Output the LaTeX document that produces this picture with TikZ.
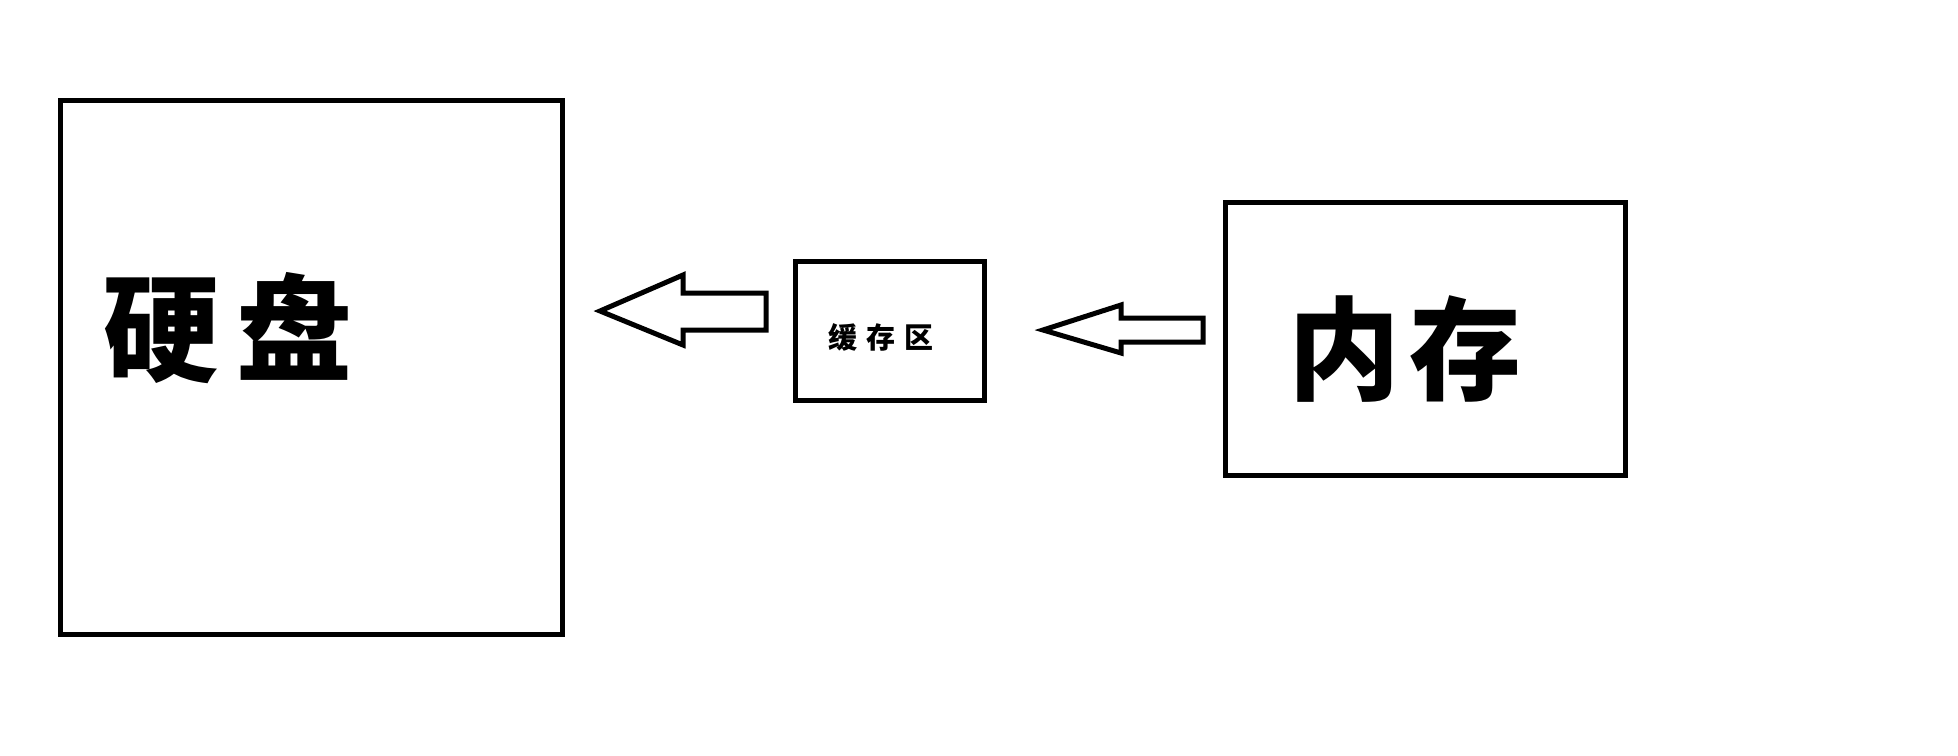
\documentclass[tikz,border=0pt]{standalone}
\usepackage{fontspec}
\usepackage{tikz}
\newfontfamily\cjk{Noto Sans CJK SC}

\tikzset{
  caixa/.style={draw, line width=5pt, inner sep=0pt},
  rotulo/.style={inner sep=0pt, font=\cjk\bfseries},
  seta/.style={draw, line width=5pt, line join=miter, fill=white}
}

\begin{document}
\begin{tikzpicture}[x=1pt, y=-1pt]

        % area total
        \useasboundingbox (0,0) rectangle (1958,755);

        % caixas
        \node[caixa, minimum width=502pt, minimum height=534pt] (disco) at (311,367) {};
        \node[caixa, minimum width=189pt, minimum height=139pt] (cache) at (889.5,330.5) {};
        \node[caixa, minimum width=400pt, minimum height=273pt] (memoria) at (1425,338.5) {};

        % rotulos
        \node[rotulo, font=\cjk\bfseries\fontsize{116}{116}\selectfont] (txtdisco) at (228,328) {硬\hspace{18pt}盘};
        \node[rotulo, font=\cjk\bfseries\fontsize{29}{29}\selectfont] (txtcache) at (881,337) {缓\hspace{9pt}存\hspace{9pt}区};
        \node[rotulo, font=\cjk\bfseries\fontsize{112}{112}\selectfont] (txtmemoria) at (1405,349) {内\hspace{10pt}存};

        % pontas das setas
        \coordinate (pontaA) at (600,311);
        \coordinate (pontaB) at (1043,330);

        % setas
        \draw[seta] (pontaA) -- ++(83,-36) -- ++(0,18) -- ++(83,0) -- ++(0,37)
                    -- ++(-83,0) -- ++(0,15) -- cycle;
        \draw[seta] (pontaB) -- ++(78,-25) -- ++(0,13) -- ++(82,0) -- ++(0,24)
                    -- ++(-82,0) -- ++(0,11) -- cycle;

\end{tikzpicture}
\end{document}
